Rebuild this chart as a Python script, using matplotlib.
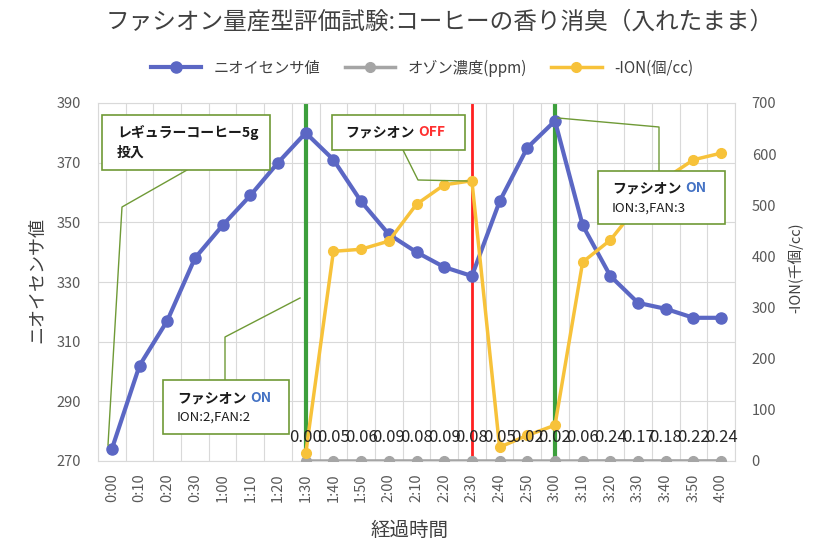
import numpy as np
import matplotlib
matplotlib.use('Agg')
import matplotlib.pyplot as plt
from matplotlib.lines import Line2D
from matplotlib.patches import Rectangle

plt.rcParams['font.family'] = ['Noto Sans CJK JP', 'DejaVu Sans']

# データ
times = ['0:00', '0:10', '0:20', '0:30', '1:00', '1:10', '1:20', '1:30', '1:40', '1:50',
         '2:00', '2:10', '2:20', '2:30', '2:40', '2:50', '3:00', '3:10', '3:20', '3:30',
         '3:40', '3:50', '4:00']
odor = [274, 302, 317, 338, 349, 359, 370, 380, 371, 357, 346, 340, 335, 332,
        357, 375, 384, 349, 332, 323, 321, 318, 318]
nan = np.nan
ozone = [nan] * 7 + [0.00, 0.05, 0.06, 0.09, 0.08, 0.09, 0.08, 0.05, 0.02, 0.02,
                     0.06, 0.24, 0.17, 0.18, 0.22, 0.24]
ion = [nan] * 7 + [15, 410, 414, 430, 502, 540, 548, 27, 50, 70,
                   389, 432, 500, 553, 589, 602]
events_on = ['1:30', '3:00']
events_off = ['2:30']

W, H = 818, 544
BLUE = '#5b67c4'
GRAY = '#a5a5a5'
YELLOW = '#f7c23a'
GREEN_BOX = '#6f9a36'
TXT = '#404040'


def fx(x):
    return x / W


def fy(y):
    return 1 - y / H


fig = plt.figure(figsize=(W / 100, H / 100), dpi=100)
ax = fig.add_axes([fx(98), fy(461), (735 - 98) / W, (461 - 103) / H])
x = np.arange(len(times))

# グリッド
ax.set_xlim(-0.5, len(times) - 0.5)
ax.set_ylim(270, 390)
ax.set_yticks(np.arange(270, 391, 20))
ax.set_xticks(x)
ax.set_xticklabels(times, rotation=90)
ax.set_xticks(np.arange(-0.5, len(times), 1), minor=True)
ax.grid(True, axis='y', color='#d9d9d9', lw=0.8, zorder=0)
ax.grid(True, axis='x', which='minor', color='#d9d9d9', lw=0.8, zorder=0)
ax.tick_params(axis='both', which='both', length=0, colors='#595959', labelsize=10.5)
ax.tick_params(axis='y', pad=12)
ax.tick_params(axis='x', pad=9)
for sp in ax.spines.values():
    sp.set_color('#d9d9d9')

# イベント線
for t in events_on:
    ax.axvline(times.index(t), color='#3c9f3c', lw=3, zorder=2)
for t in events_off:
    ax.axvline(times.index(t), color='#ff2020', lw=2, zorder=2)

l1, = ax.plot(x, odor, color=BLUE, lw=3, marker='o', ms=8, zorder=3)

ax2 = ax.twinx()
ax2.set_ylim(0, 700)
ax2.set_yticks(np.arange(0, 701, 100))
ax2.tick_params(axis='y', length=0, colors='#595959', labelsize=10.5, pad=12)
for sp in ax2.spines.values():
    sp.set_visible(False)

l2, = ax2.plot(x, ozone, color=GRAY, lw=2.5, marker='o', ms=7, zorder=3)
l3, = ax2.plot(x, ion, color=YELLOW, lw=2.5, marker='o', ms=7, zorder=3)
for i, v in enumerate(ozone):
    if not np.isnan(v):
        ax2.annotate(f'{v:.2f}', (i, v), xytext=(0, 17), textcoords='offset points',
                     ha='center', va='center', fontsize=12, color='#262626', zorder=4)

# タイトル・ラベル
fig.text(fx(440), fy(22), 'ファシオン量産型評価試験:コーヒーの香り消臭（入れたまま）',
         ha='center', va='center', fontsize=17, color=TXT)
fig.text(fx(410), fy(530), '経過時間', ha='center', va='center', fontsize=14, color=TXT)
fig.text(fx(37), fy(280), 'ニオイセンサ値', ha='center', va='center', rotation=90,
         fontsize=13, color=TXT)
fig.text(fx(795), fy(268), '-ION(千個/cc)', ha='center', va='center', rotation=90,
         fontsize=10.5, color=TXT)

fig.legend([l1, l2, l3], ['ニオイセンサ値', 'オゾン濃度(ppm)', '-ION(個/cc)'],
           loc='center', bbox_to_anchor=(fx(422), fy(68)), ncol=3, frameon=False,
           fontsize=11, handlelength=3.3, columnspacing=1.6, labelcolor=TXT)

# 吹き出し
renderer = fig.canvas.get_renderer()


def box(x0, y0, x1, y1):
    fig.patches.append(Rectangle((fx(x0), fy(y1)), (x1 - x0) / W, (y1 - y0) / H,
                                 transform=fig.transFigure, fc='white', ec=GREEN_BOX,
                                 lw=1.2, zorder=10))


def leader(pts):
    xs = [fx(p[0]) for p in pts]
    ys = [fy(p[1]) for p in pts]
    fig.lines.append(Line2D(xs, ys, transform=fig.transFigure, color=GREEN_BOX,
                            lw=1.0, zorder=9))


def label2(x0, y, first, second, color2):
    t = fig.text(fx(x0), fy(y), first, ha='left', va='center', fontsize=10,
                 fontweight='bold', color='#1a1a1a', zorder=11)
    bb = t.get_window_extent(renderer)
    fig.text(bb.x1 / W + 4 / W, fy(y), second, ha='left', va='center', fontsize=10,
             fontweight='bold', color=color2, zorder=11)


leader([(187, 170), (122, 207), (108, 445)])
box(102, 115, 270, 170)
fig.text(fx(117), fy(142), 'レギュラーコーヒー5g\n投入', ha='left', va='center',
         fontsize=10, fontweight='bold', color='#1a1a1a', linespacing=1.5, zorder=11)

leader([(403, 150), (418, 180), (467, 181)])
box(332, 115, 465, 150)
label2(345, 132, 'ファシオン', 'OFF', '#ff3030')

leader([(659, 171), (659, 127), (558, 118)])
box(598, 171, 725, 224)
label2(612, 188, 'ファシオン', 'ON', '#4472c4')
fig.text(fx(612), fy(208), 'ION:3,FAN:3', ha='left', va='center', fontsize=9.5,
         color='#1a1a1a', zorder=11)

leader([(225, 380), (225, 337), (300, 298)])
box(163, 380, 289, 434)
label2(177, 398, 'ファシオン', 'ON', '#4472c4')
fig.text(fx(177), fy(417), 'ION:2,FAN:2', ha='left', va='center', fontsize=9.5,
         color='#1a1a1a', zorder=11)

fig.savefig('out.png', dpi=100)
